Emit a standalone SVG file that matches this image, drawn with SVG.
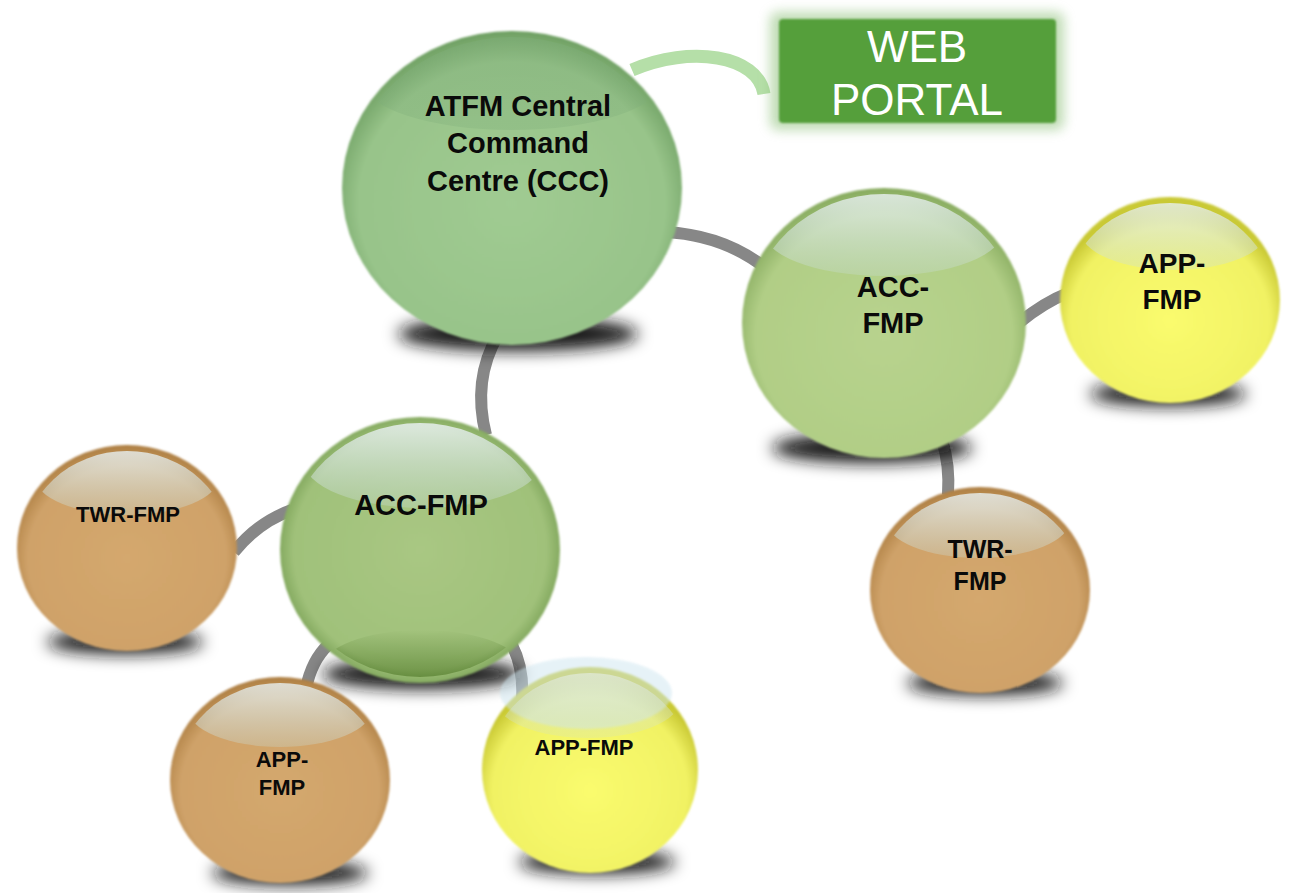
<svg xmlns="http://www.w3.org/2000/svg" width="1289" height="893" viewBox="0 0 1289 893">
<defs>
<style>
.conn{fill:none;stroke:#878787;stroke-width:12}
.lbl{font-family:"Liberation Sans",Arial,sans-serif;font-weight:bold;fill:#0a0a0a;text-anchor:middle}
.shadow{fill:#161616;filter:url(#sblur)}
.hl{fill:url(#hlg)}
</style>
<filter id="sblur" x="-50%" y="-100%" width="200%" height="300%"><feGaussianBlur stdDeviation="8"/></filter>
<filter id="soft" x="-10%" y="-10%" width="120%" height="120%"><feGaussianBlur stdDeviation="0.8"/></filter>
<filter id="glow" x="-20%" y="-40%" width="140%" height="180%"><feGaussianBlur stdDeviation="6"/></filter>
<radialGradient id="gCCC" cx="0.5" cy="0.55" r="0.55"><stop offset="0" stop-color="#a0cb92"/><stop offset="0.82" stop-color="#98c48a"/><stop offset="1" stop-color="#6e9f62"/></radialGradient>
<radialGradient id="gACC1" cx="0.5" cy="0.55" r="0.55"><stop offset="0" stop-color="#b8d38e"/><stop offset="0.82" stop-color="#b1ce86"/><stop offset="1" stop-color="#86aa5e"/></radialGradient>
<radialGradient id="gACC2" cx="0.5" cy="0.5" r="0.55"><stop offset="0" stop-color="#a9c783"/><stop offset="0.82" stop-color="#a0c17a"/><stop offset="1" stop-color="#6a9447"/></radialGradient>
<radialGradient id="gY" cx="0.5" cy="0.6" r="0.55"><stop offset="0" stop-color="#fafb6e"/><stop offset="0.82" stop-color="#f1f264"/><stop offset="1" stop-color="#c9c934"/></radialGradient>
<radialGradient id="gB" cx="0.5" cy="0.55" r="0.55"><stop offset="0" stop-color="#d4a86e"/><stop offset="0.82" stop-color="#cfa269"/><stop offset="1" stop-color="#ad7e42"/></radialGradient>
<linearGradient id="hlg" x1="0" y1="0" x2="0" y2="1"><stop offset="0" stop-color="#eef4f6" stop-opacity="0.9"/><stop offset="1" stop-color="#c8dcd8" stop-opacity="0.3"/></linearGradient>
<linearGradient id="hlc" x1="0" y1="0" x2="0" y2="1"><stop offset="0" stop-color="#7fae7a" stop-opacity="0.45"/><stop offset="1" stop-color="#7fae7a" stop-opacity="0.3"/></linearGradient>
<linearGradient id="darkb" x1="0" y1="0" x2="0" y2="1"><stop offset="0" stop-color="#4a7322" stop-opacity="0"/><stop offset="1" stop-color="#4a7322" stop-opacity="0.95"/></linearGradient>
<clipPath id="cCCC"><ellipse cx="512" cy="188" rx="164" ry="151"/></clipPath>
<clipPath id="cACC1"><ellipse cx="884" cy="323" rx="136" ry="129"/></clipPath>
<clipPath id="cAPP1"><ellipse cx="1170" cy="300" rx="104" ry="97"/></clipPath>
<clipPath id="cTWR1"><ellipse cx="980" cy="590" rx="104" ry="97"/></clipPath>
<clipPath id="cACC2"><ellipse cx="420" cy="550" rx="134" ry="127"/></clipPath>
<clipPath id="cTWR2"><ellipse cx="127" cy="548" rx="104" ry="97"/></clipPath>
<clipPath id="cAPP2"><ellipse cx="280" cy="780" rx="104" ry="97"/></clipPath>
<clipPath id="cAPP3"><ellipse cx="590" cy="770" rx="102" ry="97"/></clipPath>
</defs>

<g id="connectors">
<path d="M632 70 C690 45 758 55 764 94" fill="none" stroke="#b5dfa8" stroke-width="13"/>
<path class="conn" d="M665 232 Q725 235 768 270"/>
<path class="conn" d="M498 335 Q472 380 486 435"/>
<path class="conn" d="M1020 322 Q1045 302 1068 293"/>
<path class="conn" d="M942 440 Q950 465 948 495"/>
<path class="conn" d="M234 552 Q258 522 292 510"/>
<path class="conn" d="M306 688 Q312 660 328 645"/>
<path class="conn" d="M512 645 Q524 668 522 700"/>
</g>

<g id="web-portal">
<rect x="770" y="12" width="294" height="118" rx="8" fill="#8cc078" opacity="0.55" filter="url(#glow)"/>
<rect x="779" y="19" width="277" height="104" rx="4" fill="#559f3a" filter="url(#soft)"/>
<text x="917" y="62" font-family="'Liberation Sans',Arial,sans-serif" font-size="44" fill="#ffffff" text-anchor="middle">WEB</text>
<text x="917" y="115" font-family="'Liberation Sans',Arial,sans-serif" font-size="44" fill="#ffffff" text-anchor="middle">PORTAL</text>
</g>

<g id="ccc">
<ellipse class="shadow" cx="518" cy="334" rx="120" ry="17"/>
<ellipse cx="512" cy="188" rx="170" ry="157" fill="url(#gCCC)" filter="url(#soft)"/>
<ellipse cx="512" cy="80" rx="150" ry="50" fill="url(#hlc)" clip-path="url(#cCCC)"/>
<text class="lbl" font-size="29"><tspan x="518" y="116">ATFM Central</tspan><tspan x="518" y="153">Command</tspan><tspan x="518" y="191">Centre (CCC)</tspan></text>
</g>

<g id="acc-right">
<ellipse class="shadow" cx="872" cy="448" rx="100" ry="15"/>
<ellipse cx="884" cy="323" rx="142" ry="135" fill="url(#gACC1)" filter="url(#soft)"/>
<ellipse cx="883" cy="228" rx="122" ry="48" class="hl" clip-path="url(#cACC1)"/>
<text class="lbl" font-size="29"><tspan x="893" y="297">ACC-</tspan><tspan x="893" y="333">FMP</tspan></text>
</g>

<g id="app-right">
<ellipse class="shadow" cx="1168" cy="394" rx="78" ry="12"/>
<ellipse cx="1170" cy="300" rx="110" ry="103" fill="url(#gY)" filter="url(#soft)"/>
<ellipse cx="1174" cy="230" rx="94" ry="40" class="hl" clip-path="url(#cAPP1)"/>
<text class="lbl" font-size="28"><tspan x="1172" y="273">APP-</tspan><tspan x="1172" y="309">FMP</tspan></text>
</g>

<g id="twr-right">
<ellipse class="shadow" cx="985" cy="683" rx="78" ry="12"/>
<ellipse cx="980" cy="590" rx="110" ry="103" fill="url(#gB)" filter="url(#soft)"/>
<ellipse cx="978" cy="520" rx="92" ry="38" class="hl" clip-path="url(#cTWR1)"/>
<text class="lbl" font-size="25"><tspan x="980" y="558">TWR-</tspan><tspan x="980" y="590">FMP</tspan></text>
</g>

<g id="acc-left">
<ellipse class="shadow" cx="422" cy="674" rx="100" ry="15"/>
<ellipse cx="420" cy="550" rx="140" ry="133" fill="url(#gACC2)" filter="url(#soft)"/>
<ellipse cx="423" cy="460" rx="120" ry="48" class="hl" clip-path="url(#cACC2)"/>
<ellipse cx="422" cy="668" rx="100" ry="38" fill="url(#darkb)" clip-path="url(#cACC2)"/>
<text class="lbl" font-size="29" x="421" y="515">ACC-FMP</text>
</g>

<g id="twr-left">
<ellipse class="shadow" cx="125" cy="642" rx="78" ry="12"/>
<ellipse cx="127" cy="548" rx="110" ry="103" fill="url(#gB)" filter="url(#soft)"/>
<ellipse cx="127" cy="477" rx="92" ry="38" class="hl" clip-path="url(#cTWR2)"/>
<text class="lbl" font-size="22" x="128" y="522">TWR-FMP</text>
</g>

<g id="app-left">
<ellipse class="shadow" cx="290" cy="873" rx="78" ry="12"/>
<ellipse cx="280" cy="780" rx="110" ry="103" fill="url(#gB)" filter="url(#soft)"/>
<ellipse cx="280" cy="709" rx="92" ry="38" class="hl" clip-path="url(#cAPP2)"/>
<text class="lbl" font-size="22"><tspan x="282" y="767">APP-</tspan><tspan x="282" y="795">FMP</tspan></text>
</g>

<g id="app-bottom">
<ellipse class="shadow" cx="597" cy="862" rx="78" ry="12"/>
<ellipse cx="590" cy="770" rx="108" ry="103" fill="url(#gY)" filter="url(#soft)"/>
<ellipse cx="586" cy="693" rx="86" ry="36" fill="#cfe6f0" opacity="0.5" filter="url(#soft)"/>
<ellipse cx="588" cy="700" rx="92" ry="38" class="hl" opacity="0.7" clip-path="url(#cAPP3)"/>
<text class="lbl" font-size="22" x="584" y="755">APP-FMP</text>
</g>
</svg>
